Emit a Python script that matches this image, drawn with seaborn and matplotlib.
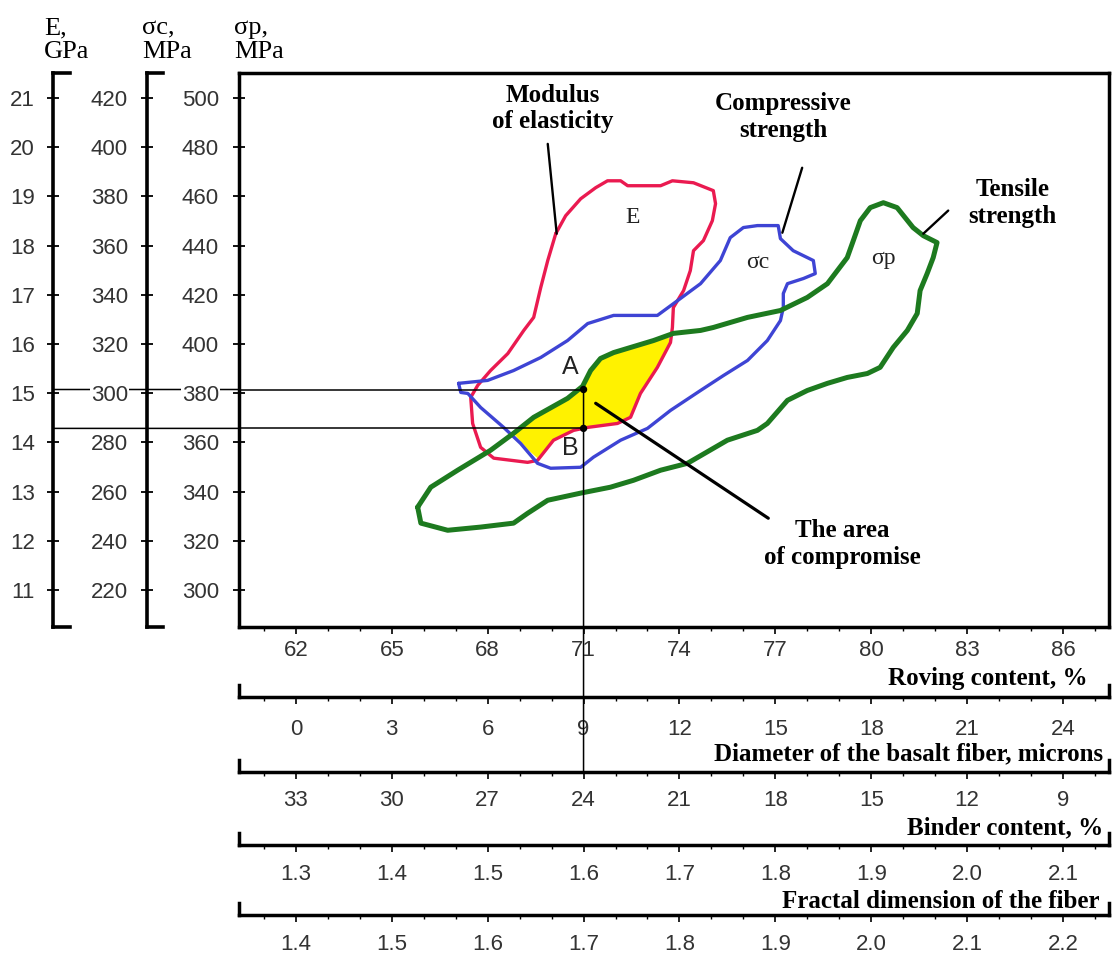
import numpy as np
import pandas as pd
import matplotlib
matplotlib.use("Agg")
import matplotlib.pyplot as plt
import seaborn as sns
from matplotlib.ticker import FixedLocator, MultipleLocator
from matplotlib.patches import ConnectionPatch

# ---------------- data ----------------
roving_ticks = [62, 65, 68, 71, 74, 77, 80, 83, 86]
roving_labels = ['62', '65', '68', '71', '74', '77', '80', '83', '86']
diameter_labels = ['0', '3', '6', '9', '12', '15', '18', '21', '24']
binder_labels = ['33', '30', '27', '24', '21', '18', '15', '12', '9']
fractal1_labels = ['1.3', '1.4', '1.5', '1.6', '1.7', '1.8', '1.9', '2.0', '2.1']
fractal2_labels = ['1.4', '1.5', '1.6', '1.7', '1.8', '1.9', '2.0', '2.1', '2.2']

sp_ticks = [300, 320, 340, 360, 380, 400, 420, 440, 460, 480, 500]
sp_labels = ['300', '320', '340', '360', '380', '400', '420', '440', '460', '480', '500']
sc_labels = ['220', '240', '260', '280', '300', '320', '340', '360', '380', '400', '420']
e_labels = ['11', '12', '13', '14', '15', '16', '17', '18', '19', '20', '21']

# Modulus of elasticity region (x: roving %, y: sigma_p scale)
e_x = [70.13, 70.44, 70.91, 71.38, 71.75, 72.16, 72.38, 73.41, 73.78, 74.44,
       75.06, 75.13, 75.03, 74.75, 74.44, 74.34, 74.13, 73.81, 73.78, 73.72,
       73.31, 72.78, 72.47, 72.06, 71.13, 70.69, 70.06, 69.56, 69.25, 68.19,
       67.78, 67.53, 67.47, 67.69, 68.09, 68.63, 69.13, 69.44, 69.66, 69.88]
e_y = [444.8, 452.1, 459.0, 463.5, 466.3, 466.3, 464.3, 464.3, 466.3, 465.5,
       462.3, 457.0, 450.1, 442.0, 437.9, 429.8, 421.7, 414.8, 406.7, 400.6,
       390.5, 379.9, 370.2, 367.7, 366.1, 364.9, 360.9, 352.7, 351.9, 353.6,
       358.0, 367.7, 378.3, 383.2, 389.2, 396.1, 405.5, 410.8, 422.9, 433.9]

# Compressive strength region
c_x = [67.09, 68.0, 68.81, 69.66, 70.5, 71.13, 71.94, 73.31, 73.94, 74.66,
       75.28, 75.59, 76.0, 76.44, 77.09, 77.16, 77.56, 78.19, 78.25, 77.88,
       77.38, 77.25, 77.25, 77.16, 76.75, 76.13, 75.38, 74.66, 73.72, 73.0,
       72.16, 71.31, 70.91, 69.97, 69.56, 69.03, 68.5, 67.78, 67.38, 67.16]
c_y = [384.0, 385.2, 389.2, 394.5, 401.4, 408.3, 411.6, 411.6, 417.6, 424.5,
       433.9, 443.2, 447.3, 448.1, 448.1, 442.8, 437.9, 433.9, 428.6, 426.6,
       424.5, 420.5, 414.8, 409.5, 401.4, 393.3, 387.2, 381.1, 373.0, 365.7,
       360.9, 354.0, 349.9, 349.5, 351.5, 359.6, 366.1, 374.2, 379.9, 380.3]

# Tensile strength region
p_x = [65.81, 66.22, 67.06, 68.09, 68.81, 69.44, 70.5, 70.97, 71.22, 71.53,
       71.94, 73.19, 73.81, 74.66, 75.06, 76.13, 77.16, 78.0, 78.63, 78.94,
       79.25, 79.44, 79.66, 79.97, 80.38, 80.81, 81.31, 81.63, 82.06, 81.94,
       81.75, 81.53, 81.44, 81.13, 80.69, 80.28, 79.88, 79.25, 78.63, 78.0,
       77.38, 76.75, 76.44, 75.5, 74.25, 73.41, 72.56, 71.84, 70.91, 69.88,
       69.25, 68.81, 67.78, 66.75, 65.91]
p_y = [333.7, 341.8, 348.7, 356.8, 363.7, 370.2, 377.9, 382.8, 389.2, 394.1,
       396.5, 401.4, 404.3, 405.5, 406.7, 410.8, 413.6, 418.9, 424.5, 429.8,
       435.1, 442.0, 450.1, 455.4, 457.4, 455.4, 447.3, 444.0, 441.2, 435.1,
       428.6, 421.7, 412.4, 405.5, 398.6, 390.5, 388.0, 386.4, 384.0, 381.1,
       377.1, 367.7, 364.9, 360.9, 351.5, 348.7, 344.6, 341.8, 339.4, 336.5,
       331.2, 327.2, 325.6, 324.3, 327.2]

# Area of compromise
yel_x = [68.78, 69.66, 70.5, 70.97, 71.22, 71.53, 71.94, 73.19, 73.66, 73.72,
         73.31, 72.78, 72.47, 72.06, 71.13, 70.69, 70.06, 69.56, 69.28]
yel_y = [364.1, 371.8, 377.9, 382.8, 389.2, 394.1, 396.5, 401.0, 402.6, 400.6,
         390.5, 379.9, 370.2, 367.7, 366.1, 364.9, 360.9, 353.6, 356.8]

a_x = 71
a_y = 381.5
b_y = 365.7

# ---------------- style ----------------
sns.set_theme(style="white")
plt.rcParams['font.family'] = ['Liberation Sans', 'DejaVu Sans']
SERIF = ['Liberation Serif', 'DejaVu Serif']
TICKC = '#333333'

W, H = 1115, 959
fig = plt.figure(figsize=(W / 100, H / 100), dpi=100)
fig.patch.set_facecolor('white')


def rect(l, t, r, b):
    return [l / W, 1 - b / H, (r - l) / W, (b - t) / H]


def fpos(xp, yp):
    return xp / W, 1 - yp / H


XLIM = (60.22, 87.44)
YLIM = (285.0, 510.1)
TOP, BOT = 73, 627

# ---- main axes ----
ax = fig.add_axes(rect(239, TOP, 1109, BOT))
ax.set_facecolor('none')
ax.fill(yel_x, yel_y, color='#FFF200', zorder=1, lw=0)

for xs, ys, col, lw in [(e_x, e_y, '#EA1A50', 2.4),
                        (c_x, c_y, '#3E44D4', 2.4),
                        (p_x, p_y, '#1D7A1F', 3.6)]:
    df = pd.DataFrame({'x': list(xs) + [xs[0]], 'y': list(ys) + [ys[0]]})
    sns.lineplot(data=df, x='x', y='y', sort=False, estimator=None,
                 color=col, lw=lw, ax=ax, zorder=3,
                 solid_joinstyle='round', solid_capstyle='round')

ax.set_xlim(XLIM)
ax.set_ylim(YLIM)
ax.set_xlabel('')
ax.set_ylabel('')
for s in ax.spines.values():
    s.set_visible(True)
    s.set_color('black')
    s.set_linewidth(2.5)
ax.xaxis.set_major_locator(FixedLocator(roving_ticks))
ax.set_xticklabels(roving_labels)
ax.xaxis.set_minor_locator(MultipleLocator(1))
ax.yaxis.set_major_locator(FixedLocator(sp_ticks))
ax.set_yticklabels(sp_labels)
ax.tick_params(axis='x', which='major', direction='out', length=5, width=1.2,
               pad=4, labelsize=16, bottom=True, top=False, color='black',
               labelcolor=TICKC)
ax.tick_params(axis='x', which='minor', direction='out', length=3, width=1.0,
               bottom=True, top=False, color='black')
ax.tick_params(axis='y', which='major', direction='inout', length=8, width=1.3,
               pad=10.4, labelsize=16, left=True, right=False, color='black',
               labelcolor=TICKC)

# reference lines inside main axes
ax.hlines([a_y, b_y], XLIM[0], a_x, colors='black', lw=1.1, zorder=6)
sns.scatterplot(x=[a_x, a_x], y=[a_y, b_y], color='black', s=28,
                edgecolor='none', ax=ax, zorder=7)


# ---- left side axes (E and sigma_c) ----
def side_axis(l, r, labels, pad):
    a = fig.add_axes(rect(l, TOP, r, BOT))
    a.set_facecolor('none')
    a.set_ylim(YLIM)
    a.set_xticks([])
    a.yaxis.set_major_locator(FixedLocator(sp_ticks))
    a.set_yticklabels(labels)
    a.spines['right'].set_visible(False)
    for k in ('left', 'top', 'bottom'):
        a.spines[k].set_visible(True)
        a.spines[k].set_color('black')
        a.spines[k].set_linewidth(2.6)
    a.tick_params(axis='y', direction='inout', length=8, width=1.3, pad=pad,
                  labelsize=16, left=True, right=False, color='black',
                  labelcolor=TICKC)
    return a


ax_e = side_axis(53, 70, e_labels, 9)
ax_c = side_axis(147, 163, sc_labels, 9.7)

for t in ax_c.get_yticklabels():
    if t.get_text() == '300':
        t.set_bbox(dict(facecolor='white', edgecolor='none', pad=0.5))
for t in ax.get_yticklabels():
    if t.get_text() == '380':
        t.set_bbox(dict(facecolor='white', edgecolor='none', pad=0.5))


# ---- bottom bracket axes ----
def bracket(top, bottom, labels, pad):
    a = fig.add_axes(rect(239, top, 1109, bottom))
    a.set_facecolor('none')
    a.set_xlim(XLIM)
    a.set_ylim(0, 1)
    a.set_yticks([])
    a.spines['top'].set_visible(False)
    for k in ('left', 'right', 'bottom'):
        a.spines[k].set_visible(True)
        a.spines[k].set_color('black')
        a.spines[k].set_linewidth(2.5)
    a.xaxis.set_major_locator(FixedLocator(roving_ticks))
    a.set_xticklabels(labels)
    a.xaxis.set_minor_locator(MultipleLocator(1))
    a.tick_params(axis='x', which='major', direction='out', length=5, width=1.2,
                  pad=pad, labelsize=16, bottom=True, top=False, color='black',
                  labelcolor=TICKC)
    a.tick_params(axis='x', which='minor', direction='out', length=3, width=1.0,
                  bottom=True, top=False, color='black')
    return a


ax_d = bracket(685, 697, diameter_labels, 11)
ax_b = bracket(760, 772, binder_labels, 8)
ax_f1 = bracket(833, 845, fractal1_labels, 8.6)
ax_f2 = bracket(903, 915, fractal2_labels, 8.6)

title_kw = dict(ha='right', va='center', fontsize=18, fontweight='bold',
                family=SERIF, color='black')
fig.text(*fpos(1088, 678), 'Roving content, %', **title_kw)
fig.text(*fpos(1103, 754), 'Diameter of the basalt fiber, microns', **title_kw)
fig.text(*fpos(1103, 828), 'Binder content, %', **title_kw)
fig.text(*fpos(1099, 902), 'Fractal dimension of the fiber', **title_kw)

# axis titles on the left
unit_kw = dict(ha='left', va='center', fontsize=19, family=SERIF,
               color='black', linespacing=1.1)
fig.text(*fpos(44, 40), 'E,\nGPa', **unit_kw)
fig.text(*fpos(142, 40), 'σc,\nMPa', **unit_kw)
fig.text(*fpos(234, 40), 'σp,\nMPa', **unit_kw)

# ---- connecting reference lines ----
vline = ConnectionPatch(xyA=(a_x, a_y), coordsA=ax.transData,
                        xyB=(a_x, 0), coordsB=ax_b.get_xaxis_transform(),
                        color='black', lw=1.1, zorder=3)
fig.add_artist(vline)
for yv in (a_y, b_y):
    hl = ConnectionPatch(xyA=(0, yv), coordsA=ax.get_yaxis_transform(),
                         xyB=(0, yv), coordsB=ax_e.get_yaxis_transform(),
                         color='black', lw=1.1, zorder=-1)
    fig.add_artist(hl)

# ---- annotations ----
lead = dict(arrowstyle='-', color='black', lw=1.7, shrinkA=0, shrinkB=0)
ax.annotate('', xy=(70.16, 444.8), xytext=(69.88, 481.3), arrowprops=lead,
            annotation_clip=False)
ax.annotate('', xy=(77.22, 445.2), xytext=(77.84, 471.6), arrowprops=lead,
            annotation_clip=False)
ax.annotate('', xy=(81.63, 444.8), xytext=(82.41, 454.2), arrowprops=lead,
            annotation_clip=False)
lead2 = dict(lead, lw=2.3)
ax.annotate('', xy=(76.78, 329.2), xytext=(71.38, 375.9), arrowprops=lead2,
            annotation_clip=False, zorder=8)

bold_kw = dict(ha='center', va='center', fontsize=18, fontweight='bold',
               family=SERIF, color='black', linespacing=1.2)
ax.text(70.03, 495.7, 'Modulus\nof elasticity', **bold_kw)
ax.text(77.25, 492.3, 'Compressive\nstrength', **bold_kw)
ax.text(84.41, 457.4, 'Tensile\nstrength', **bold_kw)
ax.text(79.09, 318.7, 'The area\nof compromise', **bold_kw)

sym_kw = dict(ha='center', va='center', fontsize=17, family=SERIF, color='#222222')
ax.text(72.53, 451.3, 'E', **sym_kw)
ax.text(76.44, 433.1, 'σc', **sym_kw)
ax.text(80.38, 434.7, 'σp', **sym_kw)

ax.text(70.59, 390.5, 'A', ha='center', va='center', fontsize=18, color='#222222')
ax.text(70.59, 357.6, 'B', ha='center', va='center', fontsize=18, color='#222222')

fig.savefig('out.png', dpi=100, facecolor='white')
